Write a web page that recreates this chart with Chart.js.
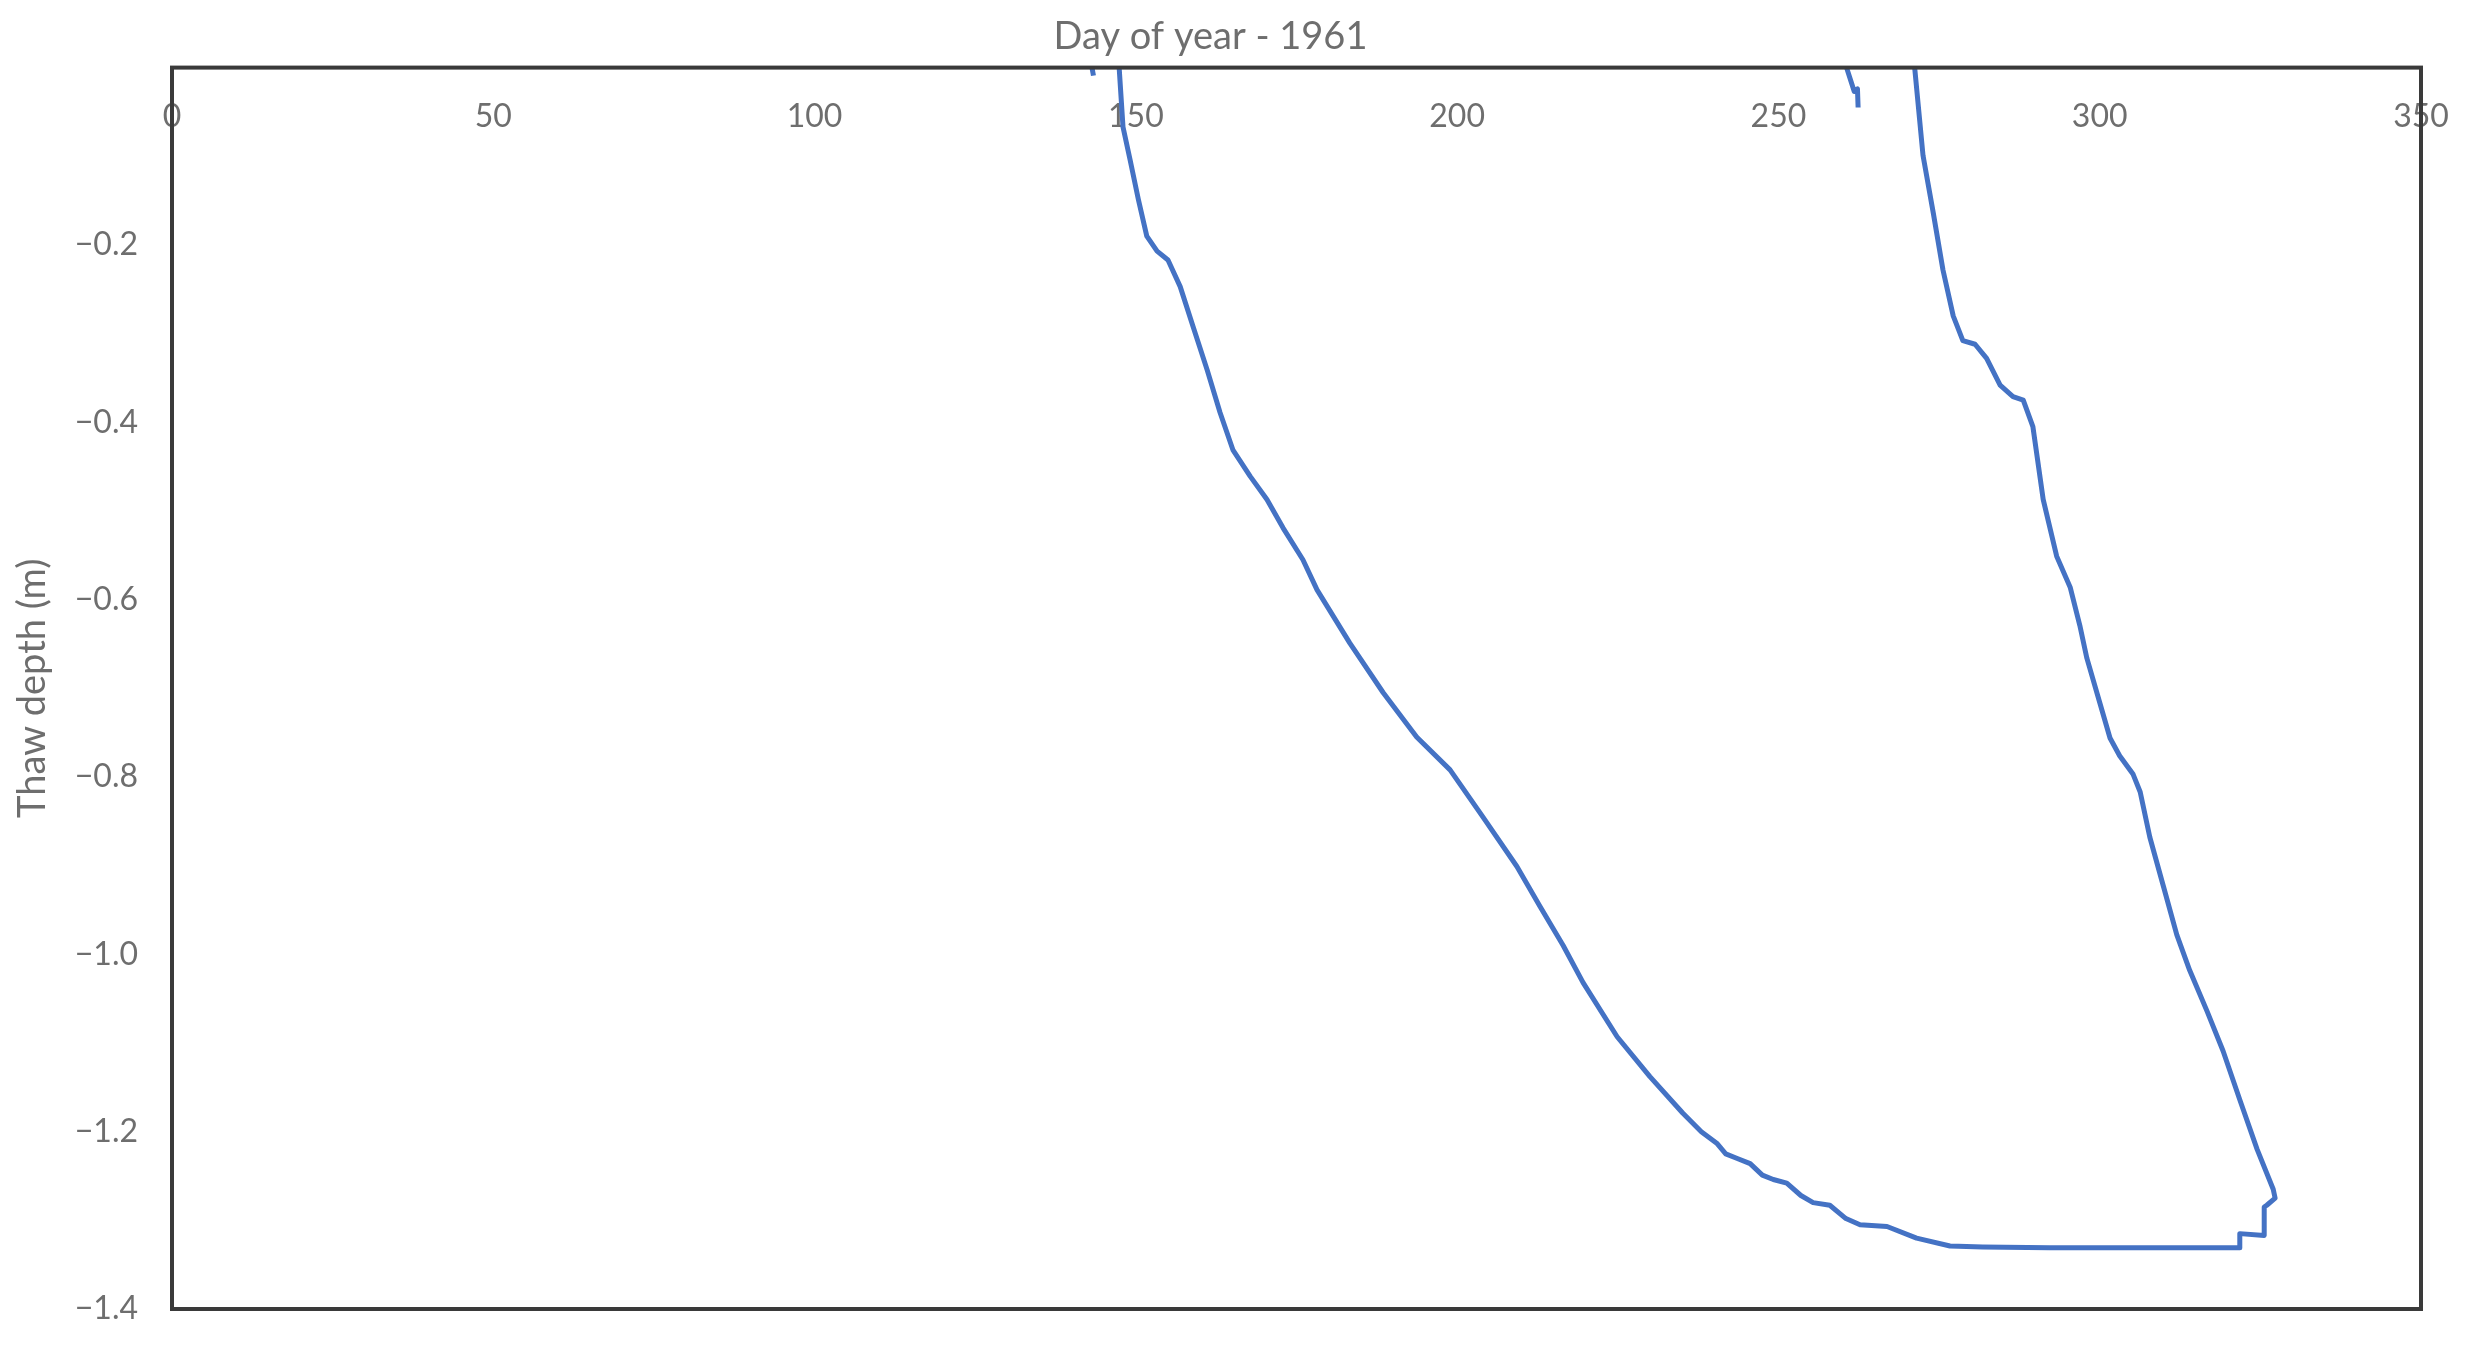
<!DOCTYPE html>
<html>
<head>
<meta charset="utf-8">
<script src="https://cdn.jsdelivr.net/npm/chart.js@4.4.1/dist/chart.umd.min.js"></script>
<style>
  html, body { margin: 0; padding: 0; background: #fff; }
  #wrap { width: 2492px; height: 1353px; }
</style>
</head>
<body>
<div id="wrap"><canvas id="grafico"></canvas></div>
<script>
// Datos (día del año, profundidad de deshielo en m)
const diasDeshielo = [
  147.4, 148.0, 149.1, 150.4, 151.7, 153.3, 155.0, 156.9, 158.9, 161.1,
  163.1, 165.1, 167.8, 170.4, 172.9, 176.0, 178.2, 183.3, 188.5, 193.7,
  198.9, 204.0, 209.3, 212.9, 216.5, 219.6, 224.9, 230.0, 235.1, 238.0,
  240.4, 241.8, 243.5, 245.6, 247.5, 249.2, 251.3, 253.5, 255.4, 258.0,
  260.5, 262.7, 266.9, 271.5, 276.7, 281.8, 292.2, 321.7, 321.8, 325.6,
  325.6, 326.0, 327.3, 327.0, 324.5, 321.8, 319.2, 316.7, 314.0, 312.0,
  309.9, 307.8, 306.3, 305.2, 303.1, 301.6, 300.0, 298.0, 296.9, 295.4,
  293.3, 291.2, 289.6, 288.1, 286.5, 284.5, 282.4, 280.6, 278.7, 277.2,
  275.6, 274.1, 272.5, 271.2
];
const profDeshielo = [
  0, -0.067, -0.104, -0.149, -0.190, -0.207, -0.217, -0.247, -0.292, -0.341,
  -0.389, -0.431, -0.461, -0.487, -0.519, -0.555, -0.589, -0.649, -0.705, -0.755,
  -0.792, -0.845, -0.901, -0.946, -0.990, -1.032, -1.093, -1.138, -1.179, -1.200,
  -1.213, -1.225, -1.230, -1.236, -1.249, -1.254, -1.258, -1.272, -1.280, -1.283,
  -1.298, -1.305, -1.307, -1.320, -1.329, -1.330, -1.331, -1.331, -1.315, -1.317,
  -1.285, -1.283, -1.275, -1.265, -1.220, -1.164, -1.109, -1.064, -1.018, -0.978,
  -0.923, -0.868, -0.817, -0.797, -0.776, -0.756, -0.716, -0.666, -0.629, -0.586,
  -0.551, -0.487, -0.405, -0.375, -0.371, -0.358, -0.328, -0.312, -0.308, -0.280,
  -0.228, -0.164, -0.099, 0
];
// Fragmentos cortos cerca del borde superior
const diasFragmento = [260.6, 261.8, 262.3, 262.4];
const profFragmento = [0, -0.027, -0.024, -0.045];
const diasPunto = [143.2, 143.4];
const profPunto = [-0.001, -0.009];

// Ejes
const ejeXMin = 0, ejeXMax = 350, ejeXPaso = 50;
const ejeYMin = -1.4, ejeYMax = 0, ejeYPaso = 0.2;

const tituloX = 'Day of year - 1961';
const tituloY = 'Thaw depth (m)';

const azul = '#4472C4';
const gris = '#6e6e6e';

function aPuntos(xs, ys) {
  return xs.map((x, i) => ({ x: x, y: ys[i] }));
}

function serie(xs, ys) {
  return {
    data: aPuntos(xs, ys),
    borderColor: azul,
    backgroundColor: azul,
    borderWidth: 5,
    pointRadius: 0,
    showLine: true,
    tension: 0,
    borderCapStyle: 'butt',
    borderJoinStyle: 'round'
  };
}

// Marco alrededor del área del gráfico
const marco = {
  id: 'marco',
  afterDatasetsDraw(chart) {
    const { ctx, chartArea: a } = chart;
    ctx.save();
    ctx.strokeStyle = '#3a3a3a';
    ctx.lineWidth = 4;
    ctx.strokeRect(a.left, a.top, a.right - a.left, a.bottom - a.top);
    ctx.restore();
  }
};

new Chart(document.getElementById('grafico'), {
  type: 'scatter',
  data: {
    datasets: [
      serie(diasDeshielo, profDeshielo),
      serie(diasFragmento, profFragmento),
      serie(diasPunto, profPunto)
    ]
  },
  options: {
    responsive: true,
    maintainAspectRatio: false,
    animation: false,
    layout: { padding: { left: 0, right: 71, top: 0, bottom: 44 } },
    plugins: {
      legend: { display: false },
      tooltip: { enabled: false },
      title: {
        display: true,
        text: tituloX,
        color: gris,
        font: { family: 'Lato', size: 38, weight: 'normal' },
        padding: { top: 14, bottom: 8 }
      }
    },
    scales: {
      x: {
        type: 'linear',
        position: { y: 0 },
        min: ejeXMin,
        max: ejeXMax,
        grid: { display: false, drawTicks: false },
        border: { display: false },
        ticks: {
          stepSize: ejeXPaso,
          color: gris,
          padding: 30,
          maxRotation: 0,
          font: { family: 'Lato', size: 32 }
        }
      },
      y: {
        type: 'linear',
        min: ejeYMin,
        max: ejeYMax,
        grid: { display: false, drawTicks: false },
        border: { display: false },
        afterFit: s => {
          s.width = 172;
          s.paddingTop = 0;
          s.paddingBottom = 0;
        },
        title: {
          display: true,
          text: tituloY,
          color: gris,
          font: { family: 'Lato', size: 38 },
          padding: { top: 10, bottom: 0 }
        },
        ticks: {
          stepSize: ejeYPaso,
          color: gris,
          padding: 34,
          font: { family: 'Lato', size: 32 },
          callback: v => Math.abs(v) < 1e-9 ? '' : v.toFixed(1).replace('-', '\u2212')
        }
      }
    }
  },
  plugins: [marco]
});
</script>
</body>
</html>
